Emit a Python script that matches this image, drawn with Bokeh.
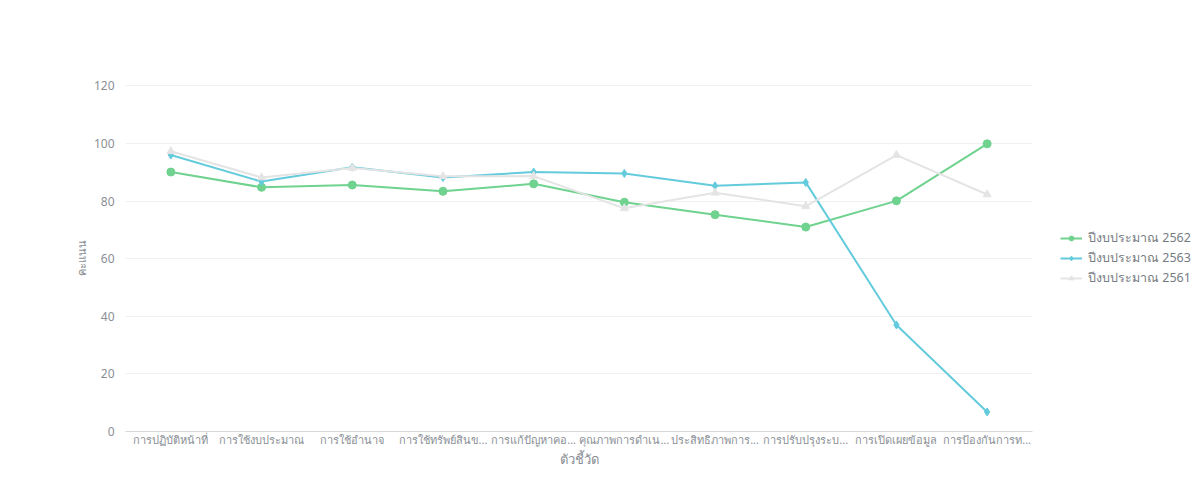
from bokeh.plotting import figure
from bokeh.models import FactorRange, Range1d, Legend, LegendItem, FixedTicker
from bokeh.embed import file_html
from bokeh.resources import INLINE

categories = [
    "การปฏิบัติหน้าที่",
    "การใช้งบประมาณ",
    "การใช้อำนาจ",
    "การใช้ทรัพย์สินข...",
    "การแก้ปัญหาคอ...",
    "คุณภาพการดำเน...",
    "ประสิทธิภาพการ...",
    "การปรับปรุงระบ...",
    "การเปิดเผยข้อมูล",
    "การป้องกันการท...",
]
s2562 = [90.1, 84.8, 85.6, 83.4, 86.0, 79.6, 75.3, 71.0, 80.1, 99.9]
s2563 = [96.0, 86.8, 91.8, 88.2, 90.1, 89.6, 85.3, 86.5, 37.0, 6.8]
s2561 = [97.3, 88.2, 91.5, 88.6, 88.7, 77.5, 82.9, 78.2, 96.0, 82.3]
names = ["ปีงบประมาณ 2562", "ปีงบประมาณ 2563", "ปีงบประมาณ 2561"]
y_ticks = [0, 20, 40, 60, 80, 100, 120]

FONT = "Noto Sans"
TXT = "#8a8f96"

p = figure(frame_width=907, frame_height=347, x_range=FactorRange(*categories, range_padding=0),
           y_range=Range1d(0, 120.5), output_backend="svg", toolbar_location=None,
           min_border_left=125, min_border_right=4, min_border_top=84, min_border_bottom=40)
p.outline_line_color = None
p.background_fill_color = "white"

p.xgrid.grid_line_color = None
p.ygrid.grid_line_color = "#f0f0f0"
p.ygrid.grid_line_width = 1

p.yaxis.ticker = FixedTicker(ticks=y_ticks)
p.yaxis.axis_line_color = None
p.yaxis.major_tick_line_color = None
p.yaxis.minor_tick_line_color = None
p.yaxis.major_label_text_color = TXT
p.yaxis.major_label_text_font = FONT
p.yaxis.major_label_text_font_size = "12px"
p.yaxis.axis_label = "คะแนน"
p.yaxis.axis_label_text_font = FONT
p.yaxis.axis_label_text_font_style = "normal"
p.yaxis.axis_label_text_color = TXT
p.yaxis.axis_label_text_font_size = "11px"
p.yaxis.axis_label_standoff = 2

p.xaxis.axis_line_color = "#d8d8d8"
p.xaxis.major_tick_line_color = None
p.xaxis.minor_tick_line_color = None
p.xaxis.major_tick_out = 0
p.xaxis.major_label_text_color = TXT
p.xaxis.major_label_text_font = FONT
p.xaxis.major_label_text_font_size = "11px"
p.xaxis.major_label_standoff = 0
p.xaxis.axis_label = "ตัวชี้วัด"
p.xaxis.axis_label_text_font = FONT
p.xaxis.axis_label_text_font_style = "normal"
p.xaxis.axis_label_text_color = TXT
p.xaxis.axis_label_text_font_size = "13px"
p.xaxis.axis_label_standoff = 0

colors = ["#6fd28f", "#63cbdc", "#e4e4e4"]
series = [s2562, s2563, s2561]
markers = ["circle", "diamond", "triangle"]
items = []
for name, vals, c, m in zip(names, series, colors, markers):
    r1 = p.line(categories, vals, line_color=c, line_width=2)
    r2 = p.scatter(categories, vals, marker=m, size=8, fill_color=c, line_color=c)
    items.append(LegendItem(label=name, renderers=[r1, r2]))

legend = Legend(items=items, location="left", border_line_color=None,
                label_text_font=FONT, label_text_color="#777c83", label_text_font_size="12.5px",
                label_height=14, glyph_width=22, glyph_height=12, spacing=0, padding=2, margin=28,
                label_standoff=6, background_fill_alpha=0)
p.add_layout(legend, "right")

open("out.html", "w").write(file_html(p, INLINE))
